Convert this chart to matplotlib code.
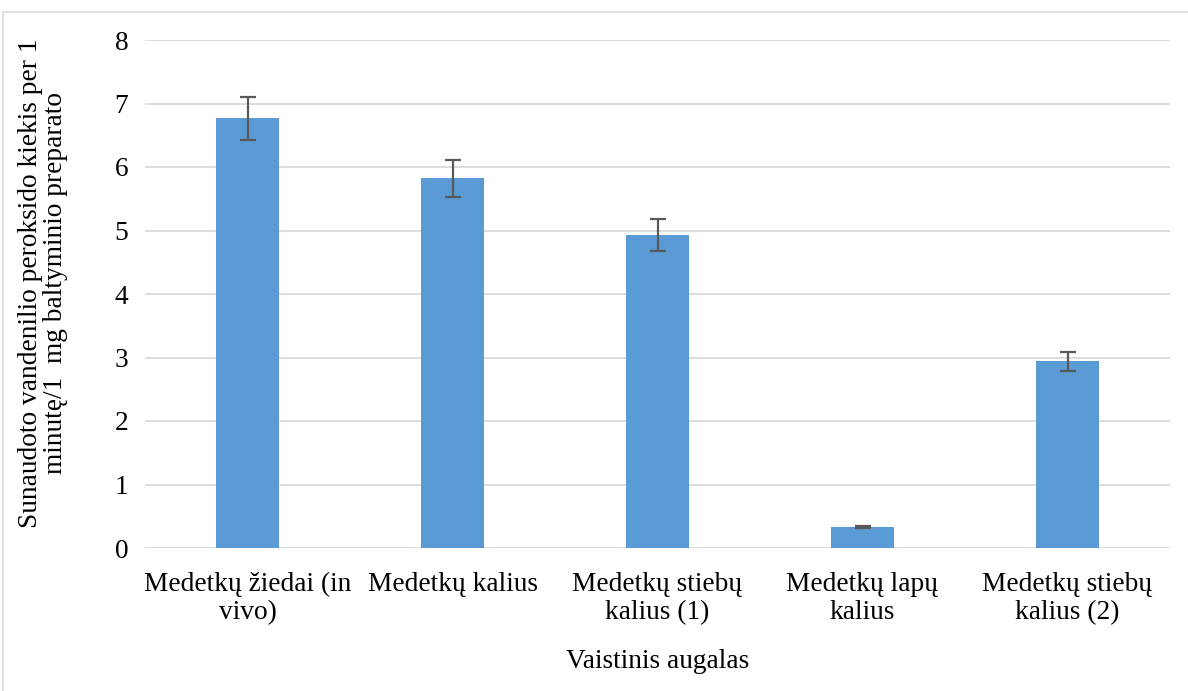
import matplotlib
matplotlib.use("Agg")
import matplotlib.pyplot as plt
from matplotlib.patches import Rectangle

categories = [
    "Medetkų žiedai (in\nvivo)",
    "Medetkų kalius",
    "Medetkų stiebų\nkalius (1)",
    "Medetkų lapų\nkalius",
    "Medetkų stiebų\nkalius (2)",
]
values = [6.77, 5.82, 4.93, 0.33, 2.94]
errors = [0.34, 0.29, 0.25, 0.02, 0.145]
y_ticks = [0, 1, 2, 3, 4, 5, 6, 7, 8]

plt.rcParams["font.family"] = ["Liberation Serif", "DejaVu Serif"]
FS = 19.7

fig = plt.figure(figsize=(11.88, 6.91), dpi=100)
ax = fig.add_axes([145 / 1188, 1 - 548 / 691, (1170 - 145) / 1188, (548 - 40) / 691])

x = list(range(len(categories)))
ax.bar(x, values, width=0.31, color="#5B9BD5", zorder=2)
ax.errorbar(x, values, yerr=errors, fmt="none", ecolor="#595959",
            elinewidth=1.6, capsize=6, capthick=1.6, zorder=3)

ax.set_xlim(-0.5, len(categories) - 0.5)
ax.set_ylim(0, 8)
ax.set_yticks(y_ticks)
ax.set_yticklabels([str(t) for t in y_ticks], fontsize=FS)
ax.set_xticks(x)
ax.set_xticklabels(categories, fontsize=FS, linespacing=1.2)
ax.tick_params(axis="both", length=0)
ax.tick_params(axis="y", pad=12)
ax.tick_params(axis="x", pad=17)
ax.grid(axis="y", color="#D9D9D9", linewidth=1.3, zorder=0)
for s in ax.spines.values():
    s.set_visible(False)

ax.set_xlabel("Vaistinis augalas", fontsize=FS, labelpad=17)
ax.set_ylabel("Sunaudoto vandenilio peroksido kiekis per 1\nminutę/1  mg baltyminio preparato",
              fontsize=FS, linespacing=1.0)
ax.yaxis.set_label_coords(-0.075, 0.522)

# outer chart frame
fig.patches.append(Rectangle((3 / 1188, -0.1), 1.2, 1.1 - 11.5 / 691,
                             transform=fig.transFigure, fill=False,
                             edgecolor="#D9D9D9", linewidth=1.2))

fig.savefig("out.png", dpi=100, facecolor="white")
